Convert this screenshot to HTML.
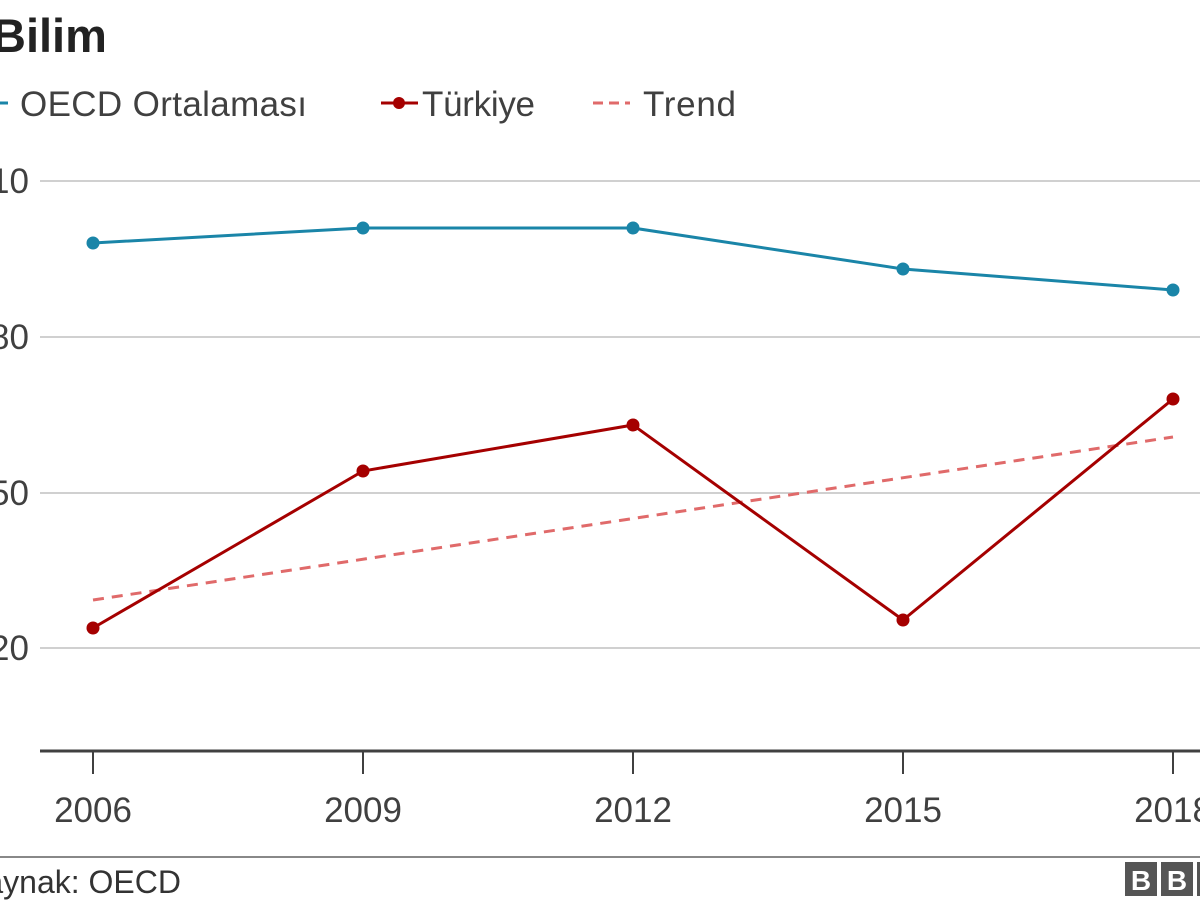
<!DOCTYPE html>
<html><head><meta charset="utf-8"><style>
html,body{margin:0;padding:0;background:#fff;width:1200px;height:900px;overflow:hidden}
svg{display:block}
text{font-family:"Liberation Sans",sans-serif}
</style></head><body>
<svg width="1200" height="900" viewBox="0 0 1200 900">
<text x="-8" y="52" font-size="47" font-weight="bold" fill="#222">Bilim</text>
<line x1="-2" y1="103" x2="8" y2="103" stroke="#1a85a8" stroke-width="3"/>
<text x="20" y="116" font-size="35" fill="#404040" textLength="287">OECD Ortalaması</text>
<line x1="381" y1="103" x2="418" y2="103" stroke="#a50000" stroke-width="3"/>
<circle cx="399" cy="103" r="6" fill="#a50000"/>
<text x="422" y="116" font-size="35" fill="#404040" textLength="113">Türkiye</text>
<line x1="593" y1="103" x2="630" y2="103" stroke="#e06a6a" stroke-width="3" stroke-dasharray="10,6"/>
<text x="643" y="116" font-size="35" fill="#404040" textLength="93">Trend</text>
<g stroke="#d0d0d0" stroke-width="2">
<line x1="40" y1="181" x2="1200" y2="181"/>
<line x1="40" y1="337" x2="1200" y2="337"/>
<line x1="40" y1="493" x2="1200" y2="493"/>
<line x1="40" y1="648" x2="1200" y2="648"/>
</g>
<g font-size="35" fill="#404040" text-anchor="end">
<text x="29" y="193">510</text>
<text x="29" y="349">480</text>
<text x="29" y="505">450</text>
<text x="29" y="660">420</text>
</g>
<line x1="40" y1="751" x2="1200" y2="751" stroke="#404040" stroke-width="3"/>
<g stroke="#404040" stroke-width="2">
<line x1="93" y1="751" x2="93" y2="774"/><line x1="363" y1="751" x2="363" y2="774"/>
<line x1="633" y1="751" x2="633" y2="774"/><line x1="903" y1="751" x2="903" y2="774"/>
<line x1="1173" y1="751" x2="1173" y2="774"/>
</g>
<g font-size="35" fill="#404040" text-anchor="middle">
<text x="93" y="822">2006</text><text x="363" y="822">2009</text><text x="633" y="822">2012</text>
<text x="903" y="822">2015</text><text x="1173" y="822">2018</text>
</g>
<line x1="93" y1="600" x2="1173" y2="437" stroke="#e06a6a" stroke-width="3" stroke-dasharray="11,8"/>
<polyline points="93,243 363,228 633,228 903,269 1173,290" fill="none" stroke="#1a85a8" stroke-width="3"/>
<g fill="#1a85a8"><circle cx="93" cy="243" r="6.5"/><circle cx="363" cy="228" r="6.5"/><circle cx="633" cy="228" r="6.5"/><circle cx="903" cy="269" r="6.5"/><circle cx="1173" cy="290" r="6.5"/></g>
<polyline points="93,628 363,471 633,425 903,620 1173,399" fill="none" stroke="#a50000" stroke-width="3"/>
<g fill="#a50000"><circle cx="93" cy="628" r="6.5"/><circle cx="363" cy="471" r="6.5"/><circle cx="633" cy="425" r="6.5"/><circle cx="903" cy="620" r="6.5"/><circle cx="1173" cy="399" r="6.5"/></g>
<line x1="0" y1="857" x2="1200" y2="857" stroke="#888" stroke-width="2"/>
<text x="-36" y="893" font-size="32" fill="#333">Kaynak: OECD</text>
<g fill="#555"><rect x="1125" y="862" width="32" height="34"/><rect x="1161" y="862" width="32" height="34"/><rect x="1197" y="862" width="32" height="34"/></g>
<g font-size="28" font-weight="bold" fill="#fff" text-anchor="middle"><text x="1141" y="890">B</text><text x="1177" y="890">B</text></g>
</svg>
</body></html>
